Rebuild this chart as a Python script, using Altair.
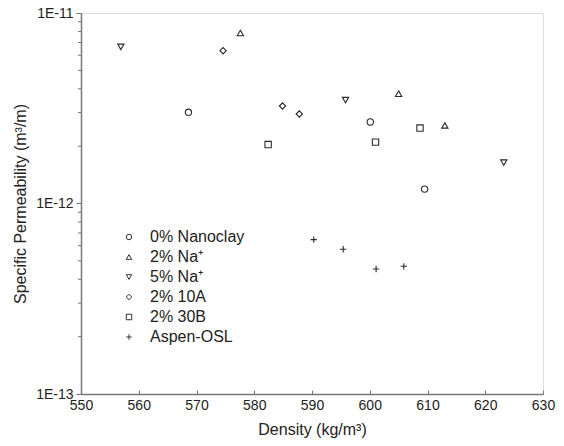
import altair as alt
import pandas as pd

series = ["0% Nanoclay", "2% Na⁺", "5% Na⁺", "2% 10A", "2% 30B", "Aspen-OSL"]

nano0_x = [568.6, 600.1, 609.5]
nano0_y = [3.01e-12, 2.68e-12, 1.19e-12]
na2_x = [577.6, 605.0, 613.0]
na2_y = [7.85e-12, 3.77e-12, 2.57e-12]
na5_x = [556.9, 595.8, 623.2]
na5_y = [6.64e-12, 3.49e-12, 1.64e-12]
a10_x = [574.6, 584.9, 587.8]
a10_y = [6.34e-12, 3.25e-12, 2.95e-12]
b30_x = [582.4, 601.0, 608.7]
b30_y = [2.04e-12, 2.10e-12, 2.49e-12]
osl_x = [590.3, 595.4, 601.1, 605.9]
osl_y = [6.46e-13, 5.75e-13, 4.53e-13, 4.68e-13]

x_ticks = [550, 560, 570, 580, 590, 600, 610, 620, 630]
y_major = [1e-13, 1e-12, 1e-11]
y_minor = [m * 10.0 ** e for e in (-13, -12) for m in range(2, 10)]

xs = [nano0_x, na2_x, na5_x, a10_x, b30_x, osl_x]
ys = [nano0_y, na2_y, na5_y, a10_y, b30_y, osl_y]
rows = []
for name, xv, yv in zip(series, xs, ys):
    for a, b in zip(xv, yv):
        rows.append({"series": name, "density": a, "perm": b})
df = pd.DataFrame(rows)
minor_df = pd.DataFrame({"perm": y_minor})

shapes = ["circle", "triangle-up", "triangle-down", "diamond", "square",
          "M-1,0L1,0M0,-1L0,1"]

FONT = "Liberation Sans"
GRAY = "#777777"
TXT = "#222222"

xscale = alt.Scale(domain=[550, 630], nice=False, zero=False)
yscale = alt.Scale(type="log", domain=[1e-13, 1e-11], nice=False)
yaxis = alt.Axis(values=y_major, title="Specific Permeability (m³/m)", grid=False,
                 labelExpr="'1E' + round(log(datum.value)/LN10)",
                 tickSize=5, tickColor=GRAY, domainColor=GRAY, domainWidth=1.5, tickWidth=1,
                 labelFont=FONT, labelFontSize=14, labelColor=TXT, labelPadding=3,
                 labelOverlap=False, labelFlush=False,
                 titleFont=FONT, titleFontSize=16, titleFontWeight="normal",
                 titleColor=TXT, titlePadding=7)

main = alt.Chart(df).mark_point(filled=False, size=40, strokeWidth=1.1, color="#2a2a2a", opacity=1).encode(
    x=alt.X("density:Q", scale=xscale,
            axis=alt.Axis(values=x_ticks, title="Density (kg/m³)", grid=False,
                          tickSize={"expr": "-4"}, tickColor=GRAY, domainColor=GRAY,
                          domainWidth=1.5, tickWidth=1, labelFont=FONT, labelFontSize=14,
                          labelColor=TXT, labelPadding=8, titleFont=FONT, titleFontSize=16,
                          titleFontWeight="normal", titleColor=TXT, titlePadding=9,
                          labelFlush=False, labelOverlap=False)),
    y=alt.Y("perm:Q", scale=yscale, axis=yaxis),
    shape=alt.Shape("series:N", scale=alt.Scale(domain=series, range=shapes),
                    legend=alt.Legend(title=None, orient="none", legendX=40, legendY=216,
                                      labelFont=FONT, labelFontSize=16, labelColor=TXT,
                                      symbolSize=30, symbolStrokeWidth=1, symbolStrokeColor="#333333",
                                      symbolFillColor="transparent", labelOffset=13,
                                      rowPadding=4, padding=0)),
)

minor = alt.Chart(minor_df).mark_rule(color=GRAY, strokeWidth=1, clip=False).encode(
    y=alt.Y("perm:Q", scale=yscale, axis=yaxis),
    x=alt.value(-3),
    x2=alt.value(0),
)

chart = alt.layer(main, minor).properties(
    width=462, height=381,
    autosize=alt.AutoSizeParams(type="none"),
    padding={"left": 73, "top": 5, "right": 13, "bottom": 44},
).configure_view(stroke=GRAY, strokeWidth=1.5).configure(background="white")

chart.save("out.html", embed_options={"renderer": "svg", "actions": False})
